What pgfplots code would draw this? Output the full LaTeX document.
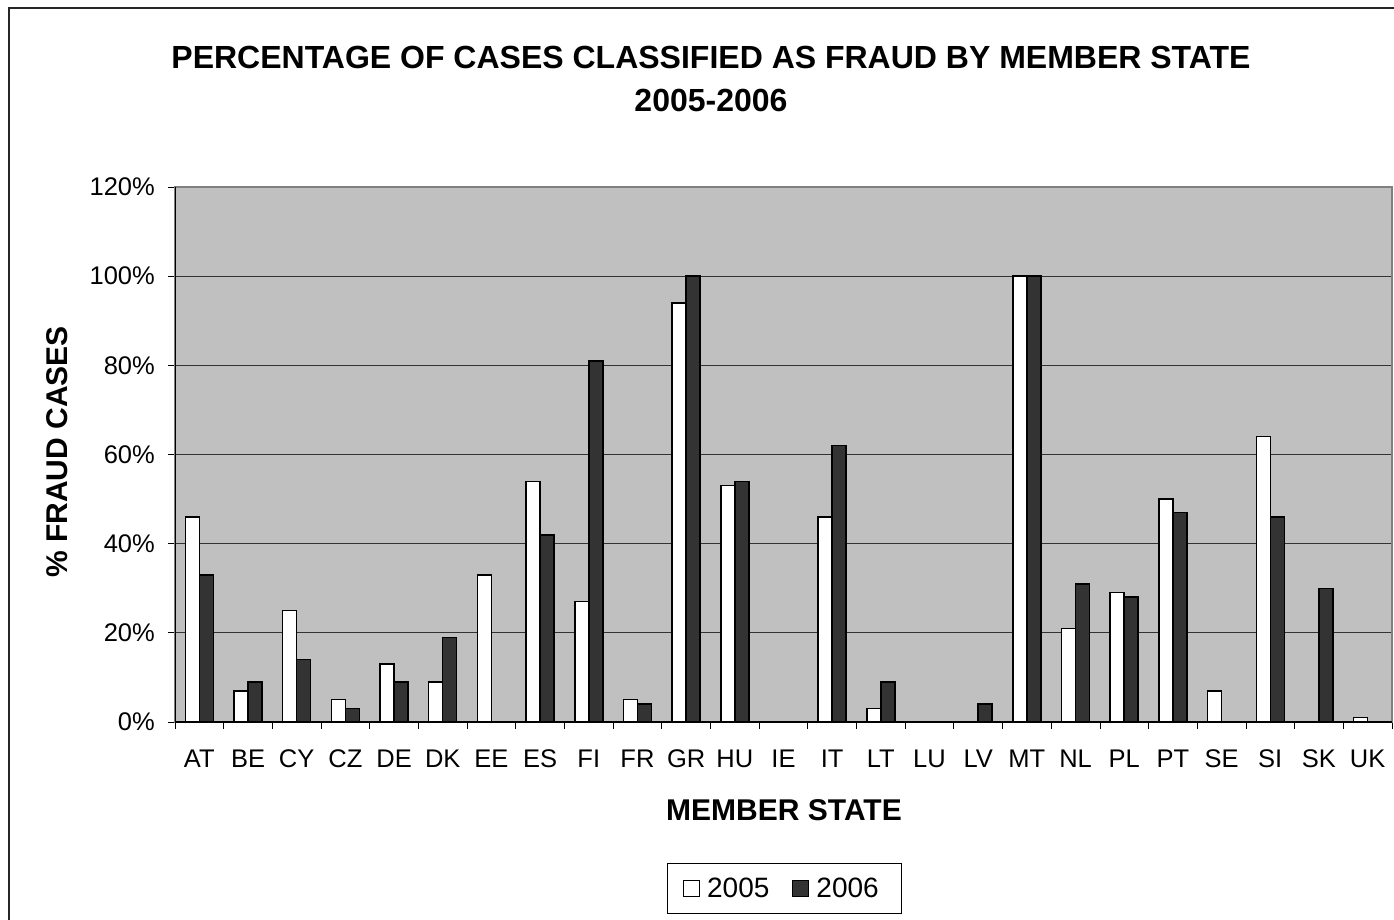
\documentclass[border=0pt]{standalone}
\usepackage{pgfplots}
\pgfplotsset{compat=1.18}
\usepackage{fontspec}
\setmainfont{Liberation Sans}
\definecolor{bg}{HTML}{C0C0C0}
\definecolor{dk}{HTML}{333333}
\begin{document}
\begin{tikzpicture}[x=1pt,y=1pt]
\useasboundingbox (0,0) rectangle (1394,919);
\draw[line width=2pt, black!85] (9,-5) -- (9,911) -- (1400,911);
\node[font=\fontsize{32}{43}\selectfont\bfseries, align=center] at (711,919-79) {PERCENTAGE OF CASES CLASSIFIED AS FRAUD BY MEMBER STATE\\2005-2006};
\node[font=\fontsize{30}{34}\selectfont\bfseries, rotate=90] at (57,919-452) {\% FRAUD CASES};
\node[font=\fontsize{30}{34}\selectfont\bfseries] at (784,919-810) {MEMBER STATE};
\begin{axis}[
  at={(175pt,197pt)}, anchor=south west,
  width=1217pt, height=535pt, scale only axis,
  ybar=0pt, bar width=14pt,
  xmin=-0.5, xmax=24.5, ymin=0, ymax=120,
  axis background/.style={fill=bg},
  axis line style={draw=black!50, line width=1.5pt},
  xtick={0,...,24},
  xticklabels={AT,BE,CY,CZ,DE,DK,EE,ES,FI,FR,GR,HU,IE,IT,LT,LU,LV,MT,NL,PL,PT,SE,SI,SK,UK},
  major x tick style={draw=none},
  minor xtick={-0.5,0.5,...,24.5},
  minor x tick style={black, line width=0.8pt},
  minor tick length=7pt,
  ytick={0,20,...,120},
  y tick style={black, line width=0.8pt},
  major tick length=7pt,
  tick align=outside,
  tick pos=left,
  yticklabel={\pgfmathprintnumber{\tick}\%},
  /pgf/number format/assume math mode=true,
  ticklabel style={font=\fontsize{25.5}{30}\selectfont},
  x tick label style={anchor=base, inner sep=0pt, yshift=-38pt},
  y tick label style={anchor=east, inner sep=0pt, xshift=-13pt},
  ymajorgrids,
  grid style={black!80, line width=0.8pt},
  legend style={at={(0.5008,-0.311)}, anchor=center, legend columns=2, draw=black, line width=0.8pt,
    font=\fontsize{28}{32}\selectfont, inner xsep=16pt, inner ysep=12pt,
    nodes={inner xsep=7pt},
    /tikz/every even column/.append style={column sep=16pt}},
  legend image code/.code={\draw[#1, line width=1pt] (0pt,-8pt) rectangle (16pt,8pt);},
]
\addplot[draw=black, line width=1.5pt, fill=white] coordinates {
(0,46) (1,7) (2,25) (3,5) (4,13) (5,9) (6,33) (7,54) (8,27) (9,5) (10,94) (11,53) (12,0)
(13,46) (14,3) (15,0) (16,0) (17,100) (18,21) (19,29) (20,50) (21,7) (22,64) (23,0) (24,1)};
\addplot[draw=black, line width=1.5pt, fill=dk] coordinates {
(0,33) (1,9) (2,14) (3,3) (4,9) (5,19) (6,0) (7,42) (8,81) (9,4) (10,100) (11,54) (12,0)
(13,62) (14,9) (15,0) (16,4) (17,100) (18,31) (19,28) (20,47) (21,0) (22,46) (23,30) (24,0)};
\legend{2005,2006}
\draw[black, line width=1.5pt] (rel axis cs:0,1) -- (rel axis cs:0,0) -- (rel axis cs:1,0);
\end{axis}
\end{tikzpicture}
\end{document}
